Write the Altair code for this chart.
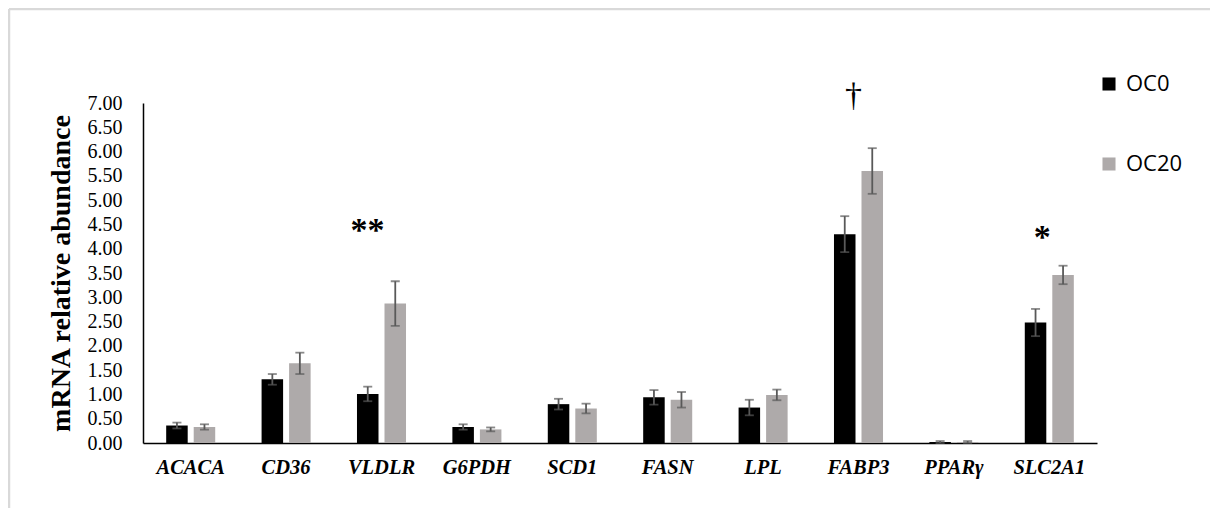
import altair as alt
import pandas as pd

genes = ["ACACA", "CD36", "VLDLR", "G6PDH", "SCD1", "FASN", "LPL", "FABP3", "PPARγ", "SLC2A1"]
groups = ["OC0", "OC20"]
oc0 = [0.36, 1.31, 1.01, 0.33, 0.80, 0.94, 0.73, 4.30, 0.02, 2.48]
oc0_err = [0.06, 0.11, 0.15, 0.055, 0.11, 0.15, 0.16, 0.37, 0.02, 0.28]
oc20 = [0.33, 1.64, 2.87, 0.28, 0.71, 0.89, 0.99, 5.60, 0.02, 3.46]
oc20_err = [0.055, 0.22, 0.46, 0.04, 0.10, 0.16, 0.11, 0.47, 0.02, 0.19]
y_ticks = [0.0, 0.5, 1.0, 1.5, 2.0, 2.5, 3.0, 3.5, 4.0, 4.5, 5.0, 5.5, 6.0, 6.5, 7.0]

sig_genes = ["VLDLR", "FABP3", "SLC2A1"]
sig_labels = ["**", "†", "*"]
sig_y = [4.15, 6.93, 4.01]
sig_dx = [-14, -5, -7]
sig_size = [34, 34, 34]
sig_weight = ["bold", "normal", "bold"]

rows = []
for i, g in enumerate(genes):
    rows.append({"gene": g, "group": "OC0", "value": oc0[i], "err": oc0_err[i]})
    rows.append({"gene": g, "group": "OC20", "value": oc20[i], "err": oc20_err[i]})
df = pd.DataFrame(rows)

serif = "Liberation Serif"
Y_TITLE = "mRNA relative abundance"

x_axis = alt.Axis(
    labelAngle=0, labelFont=serif, labelFontSize=20.5, labelFontStyle="italic",
    labelFontWeight="bold", labelColor="#000000", ticks=False, labelPadding=14,
    domainColor="#000000", domainWidth=1.5,
)
y_axis = alt.Axis(
    values=y_ticks, format=".2f", grid=False, ticks=False,
    labelOverlap=False, labelFont=serif, labelFontSize=20, labelColor="#000000",
    labelPadding=21, titleFont=serif, titleFontSize=28, titleFontWeight="bold",
    titleColor="#000000", titlePadding=12, domainColor="#000000", domainWidth=1.5,
)
x_scale = alt.Scale(paddingInner=0.486, paddingOuter=0.243)
y_scale = alt.Scale(domain=[0, 7], nice=False)


def xe():
    return alt.X("gene:N", sort=genes, title=None, scale=x_scale, axis=x_axis)


def ye(field):
    return alt.Y(field, scale=y_scale, title=Y_TITLE, axis=y_axis)


xoff = alt.XOffset("group:N", sort=groups, scale=alt.Scale(paddingInner=0.218, paddingOuter=0))

base = alt.Chart(df)

bars = base.mark_bar().encode(
    x=xe(),
    xOffset=xoff,
    y=ye("value:Q"),
    color=alt.Color(
        "group:N",
        sort=groups,
        scale=alt.Scale(domain=groups, range=["#000000", "#AEAAAA"]),
        legend=alt.Legend(
            title=None, orient="none", legendX=955, legendY=-30, symbolType="square",
            symbolSize=170, symbolStrokeWidth=0, labelFont="Open Sans", labelFontSize=22,
            labelColor="#000000", rowPadding=58, labelOffset=6, padding=0,
        ),
    ),
)

err = base.transform_calculate(
    lo="datum.value - datum.err", hi="datum.value + datum.err"
)
rules = err.mark_rule(color="#595959", strokeWidth=1.8).encode(
    x=xe(), xOffset=xoff, y=ye("lo:Q"), y2="hi:Q",
)
caps_lo = err.mark_tick(color="#595959", thickness=1.8, size=9).encode(
    x=xe(), xOffset=xoff, y=ye("lo:Q"),
)
caps_hi = err.mark_tick(color="#595959", thickness=1.8, size=9).encode(
    x=xe(), xOffset=xoff, y=ye("hi:Q"),
)

sig_df = pd.DataFrame({"gene": sig_genes, "label": sig_labels, "y": sig_y})
sig_layers = []
for i in range(len(sig_genes)):
    sig_layers.append(
        alt.Chart(sig_df.iloc[[i]]).mark_text(
            font=serif, fontWeight=sig_weight[i], fontSize=sig_size[i], dx=sig_dx[i],
            baseline="alphabetic", color="#000000",
        ).encode(
            x=xe(),
            y=ye("y:Q"),
            text="label:N",
        )
    )

frame_df = pd.DataFrame({"a": [0]})
frame_v = alt.Chart(frame_df).mark_rule(color="#d9d9d9", strokeWidth=2.5).encode(
    x=alt.value(-134), y=alt.value(-94), y2=alt.value(405)
)
frame_h = alt.Chart(frame_df).mark_rule(color="#d9d9d9", strokeWidth=2.5).encode(
    x=alt.value(-134), x2=alt.value(1070), y=alt.value(-94)
)

chart = alt.layer(bars, rules, caps_lo, caps_hi, *sig_layers, frame_v, frame_h).properties(
    width=954,
    height=340,
    background="#ffffff",
    autosize=alt.AutoSizeParams(type="none"),
    padding={"left": 135, "top": 95, "right": 113, "bottom": 65},
).configure_view(stroke=None).configure_axisY(labelOverlap=False)

chart.save("out.html", embed_options={"renderer": "svg", "actions": False})
